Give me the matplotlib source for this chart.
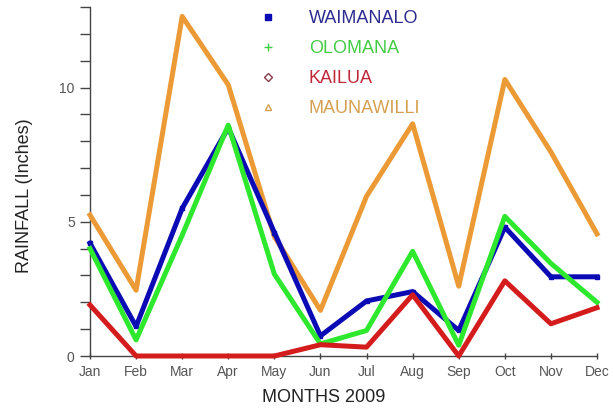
import matplotlib.pyplot as plt
from matplotlib.lines import Line2D
from matplotlib.ticker import MultipleLocator

plt.rcParams['font.family'] = ['Liberation Sans', 'DejaVu Sans']

months = ['Jan', 'Feb', 'Mar', 'Apr', 'May', 'Jun', 'Jul', 'Aug', 'Sep', 'Oct', 'Nov', 'Dec']
waimanalo = [4.2, 1.1, 5.5, 8.5, 4.6, 0.75, 2.05, 2.4, 0.95, 4.8, 2.95, 2.95]
olomana = [4.0, 0.6, 4.5, 8.6, 3.05, 0.45, 0.95, 3.9, 0.4, 5.2, 3.45, 2.0]
kailua = [1.9, 0.0, 0.0, 0.0, 0.0, 0.42, 0.33, 2.28, 0.0, 2.8, 1.2, 1.8]
maunawilli = [5.25, 2.45, 12.65, 10.1, 4.45, 1.7, 5.95, 8.65, 2.6, 10.3, 7.6, 4.55]

x = list(range(len(months)))

fig = plt.figure(figsize=(6.13, 4.11), dpi=100)
ax = fig.add_axes([90 / 613, 1 - 356 / 411, 507 / 613, 349 / 411])

lw = 3.6
ax.plot(x, maunawilli, color='#eb9a35', lw=lw, clip_on=False, zorder=3)
ax.plot(x, waimanalo, color='#0b0bb5', lw=lw, clip_on=False, zorder=4,
        marker='s', markersize=3)
ax.plot(x, olomana, color='#2ee82e', lw=lw, clip_on=False, zorder=5)
ax.plot(x, kailua, color='#d41c1c', lw=lw, clip_on=False, zorder=6)

ax.set_xlim(0, 11)
ax.set_ylim(0, 13)
ax.set_xticks(x)
ax.set_xticklabels(months)
ax.yaxis.set_major_locator(MultipleLocator(5))
ax.yaxis.set_minor_locator(MultipleLocator(1))

for side in ['top', 'right']:
    ax.spines[side].set_visible(False)
for side in ['left', 'bottom']:
    ax.spines[side].set_color('#444444')
    ax.spines[side].set_linewidth(1.0)

ax.tick_params(axis='y', which='both', length=7, width=1, color='#444444',
               labelcolor='#555555', labelsize=10, pad=4)
ax.tick_params(axis='x', length=5, width=1, color='#444444', direction='inout',
               labelcolor='#555555', labelsize=10, pad=4)

ax.set_xlabel('MONTHS 2009', fontsize=13, color='#222222')
ax.xaxis.set_label_coords(0.46, -0.095)
ax.set_ylabel('RAINFALL (Inches)', fontsize=13, color='#222222')
ax.yaxis.set_label_coords(-0.112, 0.46)

handles = [
    Line2D([], [], ls='none', marker='s', color='#0b0bb5', markersize=5),
    Line2D([], [], ls='none', marker='+', color='#44cc44', markersize=6),
    Line2D([], [], ls='none', marker='D', markerfacecolor='none',
           markeredgecolor='#8a3a4a', markersize=4.5),
    Line2D([], [], ls='none', marker='^', markerfacecolor='none',
           markeredgecolor='#d4a050', markersize=5),
]
labels = ['WAIMANALO', 'OLOMANA', 'KAILUA', 'MAUNAWILLI']
fig.legend(handles, labels, loc='upper left', bbox_to_anchor=(259 / 613, 1 - 10 / 411),
           frameon=False, fontsize=13, handlelength=1.0, handletextpad=1.75,
           labelspacing=0.72, borderpad=0, borderaxespad=0,
           labelcolor=['#2b2b90', '#44cc44', '#c02838', '#d4a050'])

fig.savefig('out.png', dpi=100)
